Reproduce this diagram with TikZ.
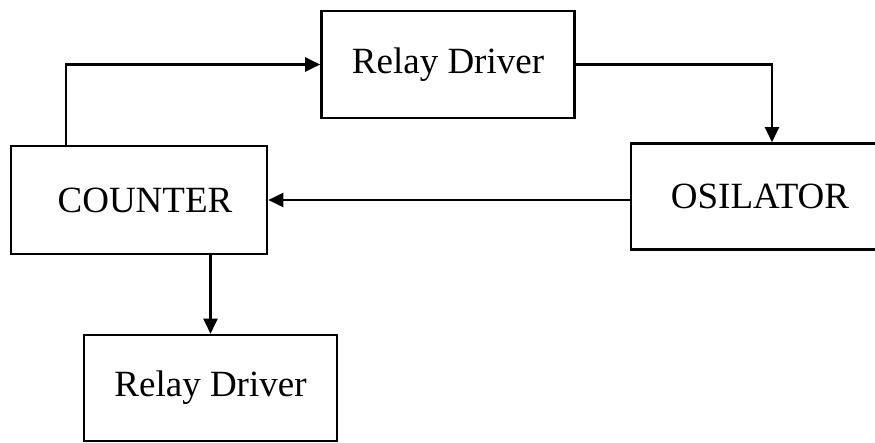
\documentclass[tikz,border=0pt]{standalone}
\usepackage{fontspec}
\setmainfont{Liberation Serif}
\usetikzlibrary{arrows.meta,calc}
\begin{document}
\begin{tikzpicture}[x=1pt,y=-1pt,
  blockbox/.style={draw=black,line width=2.6pt,rectangle,inner sep=0pt,
    font=\fontsize{37}{40}\selectfont},
  arr/.style={draw=black,line width=2.2pt,-{Triangle[length=15pt,width=14pt]}}]
\clip (0,0) rectangle (875,442);
\fill[white] (0,0) rectangle (875,442);
\node[blockbox,minimum width=253pt,minimum height=107pt] (relay1) at (448,64.5) {Relay Driver};
\node[blockbox,minimum width=256pt,minimum height=108pt] (counter) at (139,200) {\hspace*{12pt}COUNTER};
\node[blockbox,minimum width=250pt,minimum height=106pt] (osc) at (756,196.5) {\hspace*{8pt}OSILATOR};
\node[blockbox,minimum width=253pt,minimum height=106pt] (relay2) at (210.5,388) {Relay Driver};
\coordinate (cup) at ($(counter.north west)+(56pt,0)$);
\coordinate (odown) at ($(osc.north)+(16pt,0)$);
\draw[arr] (cup) |- (relay1.west);
\draw[arr] (relay1.east) -| (odown);
\draw[arr] (osc.west |- counter.east) -- (counter.east);
\draw[arr] (counter.south -| relay2.north) -- (relay2.north);
\end{tikzpicture}
\end{document}
